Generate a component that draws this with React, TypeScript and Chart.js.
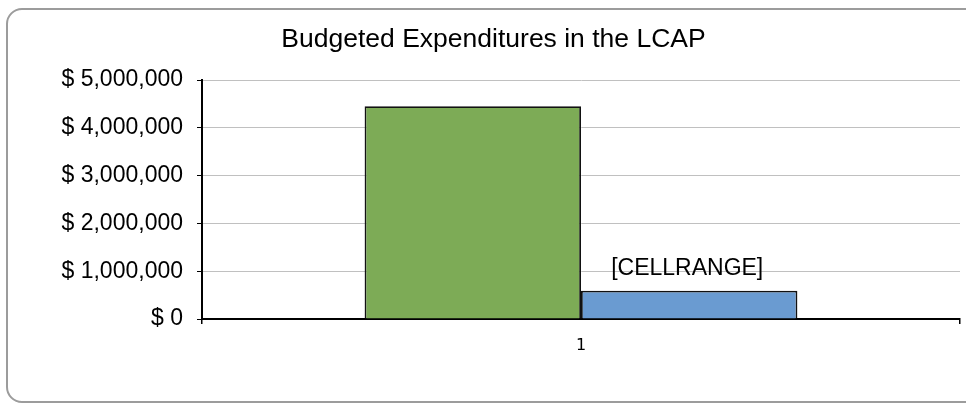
import React, { useEffect, useRef } from "react";
import { Chart, registerables } from "chart.js";

Chart.register(...registerables);

const categories = ["1"];
const greenValues = [4450000];
const blueValues = [590000];
const yTicks = [0, 1000000, 2000000, 3000000, 4000000, 5000000];
const titleText = "Budgeted Expenditures in the LCAP";
const blueLabel = "[CELLRANGE]";

const FONT = "'Liberation Sans', Arial, sans-serif";

export default function App() {
  const ref = useRef<HTMLCanvasElement | null>(null);

  useEffect(() => {
    const canvas = ref.current;
    if (!canvas) return;

    const labelPlugin = {
      id: "cellLabel",
      afterDatasetsDraw(chart: any) {
        const meta = chart.getDatasetMeta(1);
        const bar = meta.data[0];
        if (!bar) return;
        const ctx = chart.ctx;
        ctx.save();
        ctx.font = `23px ${FONT}`;
        ctx.fillStyle = "#000";
        ctx.textAlign = "center";
        ctx.textBaseline = "middle";
        ctx.fillText(blueLabel, bar.x - 2, bar.y - 22);
        ctx.restore();
      },
    };

    const chart = new Chart(canvas, {
      type: "bar",
      data: {
        labels: categories,
        datasets: [
          {
            label: "Green",
            data: greenValues,
            backgroundColor: "#7dab56",
            borderColor: "#111",
            borderWidth: 1.8,
          },
          {
            label: "Blue",
            data: blueValues,
            backgroundColor: "#6a9bd1",
            borderColor: "#111",
            borderWidth: 1.8,
          },
        ],
      },
      options: {
        responsive: false,
        animation: false,
        devicePixelRatio: 1,
        layout: { padding: { left: 27, right: 6, top: 0, bottom: 0 } },
        datasets: {
          bar: { categoryPercentage: 0.571, barPercentage: 1 },
        },
        plugins: {
          legend: { display: false },
          tooltip: { enabled: false },
          title: {
            display: true,
            text: titleText,
            color: "#000",
            font: { family: FONT, size: 26.5, weight: "normal" },
            padding: { top: 23.5, bottom: 24.7 },
          },
        },
        scales: {
          x: {
            grid: {
              display: true,
              drawOnChartArea: false,
              tickLength: 5,
              tickColor: "#000",
              lineWidth: 1.5,
            },
            border: { color: "#000", width: 2 },
            ticks: {
              color: "#000",
              font: { family: "'DejaVu Sans', sans-serif", size: 16 },
              padding: 12,
            },
            afterFit(scale: any) {
              scale.height = 85;
            },
          },
          y: {
            min: 0,
            max: 5000000,
            afterBuildTicks(scale: any) {
              scale.ticks = yTicks.map((v) => ({ value: v }));
            },
            grid: {
              color: "#c0c0c0",
              lineWidth: 1,
              tickLength: 5,
              tickColor: "#000",
            },
            border: { color: "#000", width: 2 },
            ticks: {
              color: "#000",
              font: { family: FONT, size: 23 },
              padding: 14,
              callback: (v: any) => "$ " + Number(v).toLocaleString("en-US"),
            },
            afterFit(scale: any) {
              scale.width = 175;
            },
          },
        },
      },
      plugins: [labelPlugin],
    });

    return () => chart.destroy();
  }, []);

  return (
    <div
      style={{
        position: "fixed",
        left: 0,
        top: 0,
        width: 966,
        height: 404,
        overflow: "hidden",
        background: "#fff",
      }}
    >
      <div
        style={{
          position: "absolute",
          left: 6,
          top: 8,
          width: 990,
          height: 391,
          border: "2px solid #9c9c9c",
          borderRadius: 16,
          boxSizing: "content-box",
        }}
      />
      <canvas
        ref={ref}
        width={966}
        height={404}
        style={{ position: "absolute", left: 0, top: 0, width: 966, height: 404 }}
      />
    </div>
  );
}
